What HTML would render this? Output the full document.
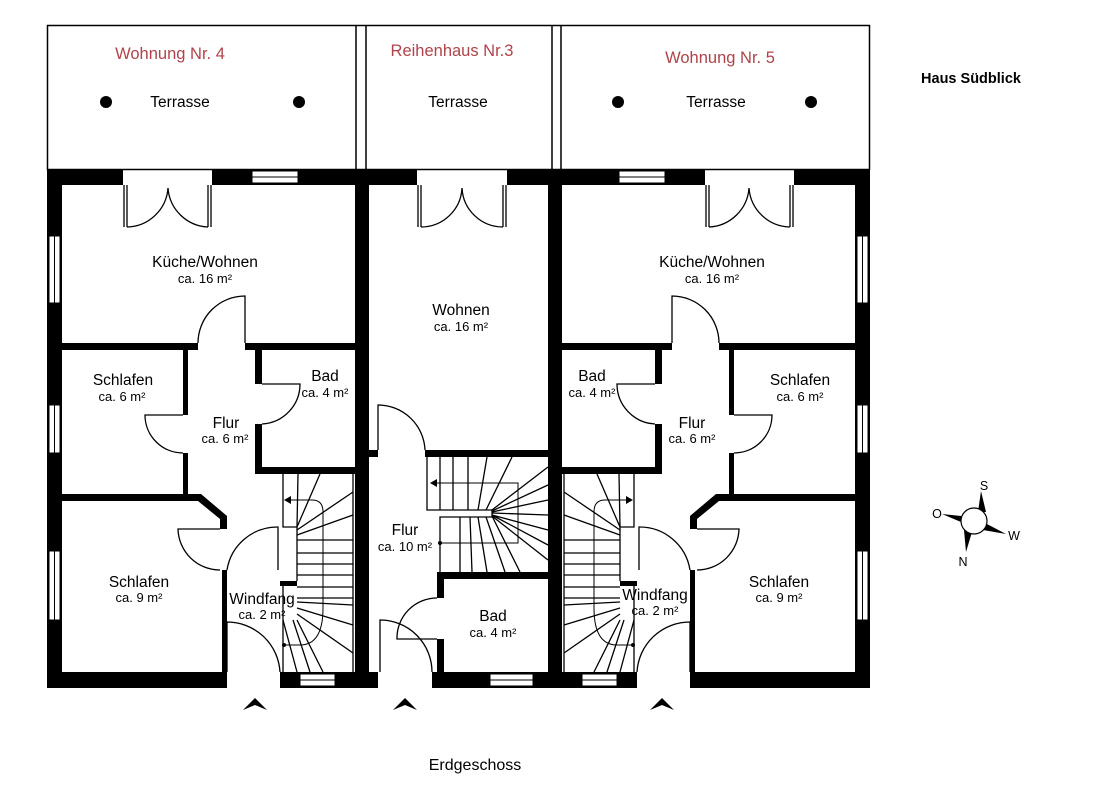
<!DOCTYPE html>
<html><head><meta charset="utf-8"><style>
html,body{margin:0;padding:0;background:#fff;width:1120px;height:792px;overflow:hidden}
svg{display:block}
text{font-family:"Liberation Sans",sans-serif;fill:#000}
.l{font-size:15.5px}.a{font-size:13px}
.r{font-size:16.5px;fill:#b0434a}
</style></head><body>
<svg width="1120" height="792" viewBox="0 0 1120 792" xmlns="http://www.w3.org/2000/svg">
<defs>
<g id="unit">
 <g fill="#000">
  <rect x="47" y="169" width="76" height="16"/>
  <rect x="212" y="169" width="157" height="16"/>
  <rect x="47" y="169" width="15" height="519"/>
  <rect x="355" y="169" width="14" height="519"/>
  <rect x="47" y="672" width="180" height="16"/>
  <rect x="280" y="672" width="75" height="16"/>
  <rect x="62" y="343" width="136" height="7"/>
  <rect x="245" y="343" width="110" height="7"/>
  <rect x="183" y="343" width="5" height="72"/>
  <rect x="183" y="453" width="5" height="44"/>
  <polygon points="62,494 201,494 227,516 227,529 220,529 220,519 198,501 62,501"/>
  <rect x="222" y="570" width="5" height="104"/>
  <rect x="255" y="343" width="7" height="41"/>
  <rect x="255" y="424" width="7" height="50"/>
  <rect x="255" y="467" width="100" height="7"/>
  <rect x="280" y="581" width="17" height="5"/>
 </g>
 <g fill="#fff" stroke="#000" stroke-width="1">
  <rect x="252" y="171" width="46" height="12"/>
  <rect x="49" y="236" width="11" height="67"/>
  <rect x="49" y="405" width="11" height="48"/>
  <rect x="49" y="551" width="11" height="69"/>
  <rect x="300" y="674" width="35" height="12"/>
 </g>
 <g stroke="#000" stroke-width="1">
  <line x1="252" y1="177" x2="298" y2="177"/>
  <line x1="54.5" y1="236" x2="54.5" y2="303"/>
  <line x1="54.5" y1="405" x2="54.5" y2="453"/>
  <line x1="54.5" y1="551" x2="54.5" y2="620"/>
  <line x1="300" y1="680" x2="335" y2="680"/>
 </g>
 <g fill="none" stroke="#000" stroke-width="1.3">
  <path d="M124 185V227M127 185V227M208 185V227M211 185V227"/>
  <path d="M127 227A42 42 0 0 0 168 188M208 227A42 42 0 0 1 168 188"/>
  <path d="M245 343V296A47 47 0 0 0 198 343"/>
  <path d="M183 415H145A38 38 0 0 0 183 453"/>
  <path d="M262 384H300A40 40 0 0 1 262 424"/>
  <path d="M220 529H178A42 42 0 0 0 220 570"/>
  <path d="M278 570V527A51 51 0 0 0 227 570"/>
  <path d="M227 672V622A53 53 0 0 1 280 672"/>
  <path d="M283 474V527H297V581M283 586V672M353 474V672"/>
  <path d="M297 527L298 474M297 527L320 474M297 530L353 492M297 535L353 515M297 540L353 540M297 553H353M297 564H353M297 575H353M297 587H353M297 598H353M297 602L353 605M297 608L353 625M297 614L353 653M297 620L323 672M293 620L310 672M283 620L297 672"/>
  <path d="M290 500H312Q323 500 323 512V608Q323 645 300 645H285" stroke-width="1"/>
 </g>
 <polygon points="284,500 291,496 291,504" fill="#000"/>
 <circle cx="284" cy="645" r="2" fill="#000"/>
</g>
</defs>

<g fill="none" stroke="#000" stroke-width="1.5">
 <rect x="47.5" y="25.5" width="822" height="144"/>
 <line x1="356" y1="25" x2="356" y2="169"/>
 <line x1="366" y1="25" x2="366" y2="169"/>
 <line x1="552" y1="25" x2="552" y2="169"/>
 <line x1="561" y1="25" x2="561" y2="169"/>
</g>
<g fill="#000">
 <circle cx="106" cy="102" r="6"/><circle cx="299" cy="102" r="6"/>
 <circle cx="618" cy="102" r="6"/><circle cx="811" cy="102" r="6"/>
</g>

<use href="#unit"/>
<use href="#unit" transform="matrix(-1,0,0,1,917,0)"/>

<g fill="#000">
 <rect x="355" y="169" width="62" height="16"/>
 <rect x="507" y="169" width="56" height="16"/>
 <rect x="355" y="672" width="23" height="16"/>
 <rect x="432" y="672" width="131" height="16"/>
 <rect x="369" y="450" width="9" height="7"/>
 <rect x="425" y="450" width="123" height="7"/>
 <rect x="437" y="572" width="111" height="7"/>
 <rect x="437" y="572" width="7" height="26"/>
 <rect x="437" y="639" width="7" height="35"/>
</g>
<rect x="490" y="674" width="43" height="12" fill="#fff" stroke="#000"/>
<line x1="490" y1="680" x2="533" y2="680" stroke="#000"/>
<g fill="none" stroke="#000" stroke-width="1.3">
 <path d="M418 185V227M421 185V227M503 185V227M506 185V227"/>
 <path d="M421 227A41 41 0 0 0 462 188M503 227A41 41 0 0 1 462 188"/>
 <path d="M378 450V405A47 47 0 0 1 425 450"/>
 <path d="M437 639H397A40 40 0 0 1 437 598"/>
 <path d="M380 672V620A52 52 0 0 1 432 672"/>
 <path d="M427 457V510H492V517H440V572"/>
 <path d="M440 457V510M453 457V510M468 457V510M487 457L478 510M512 457L486 510M548 467L492 510M548 485L492 511M548 500L492 512M548 515L492 513"/>
 <path d="M460 517V572M472 572L470 517M487 572L478 517M505 572L486 517M520 572L492 516M548 560L492 516M548 545L492 515M548 530L492 515"/>
 <path d="M432 483H518V543H440" stroke-width="1"/>
</g>
<polygon points="430,483 437,479 437,487" fill="#000"/>
<circle cx="440" cy="543" r="2" fill="#000"/>

<g fill="#000">
 <polygon points="243,710 255,698 267,710 255,705"/>
 <polygon points="393,710 405,698 417,710 405,705"/>
 <polygon points="650,710 662,698 674,710 662,705"/>
</g>

<g text-anchor="middle">
 <text class="r" x="170" y="59">Wohnung Nr. 4</text>
 <text class="r" x="452" y="56">Reihenhaus Nr.3</text>
 <text class="r" x="720" y="63">Wohnung Nr. 5</text>
 <text class="l" x="180" y="107">Terrasse</text>
 <text class="l" x="458" y="107">Terrasse</text>
 <text class="l" x="716" y="107">Terrasse</text>
 <text x="971" y="83" style="font-size:14.5px;font-weight:bold">Haus Südblick</text>

 <text class="l" x="205" y="267">Küche/Wohnen</text><text class="a" x="205" y="283">ca. 16 m²</text>
 <text class="l" x="123" y="385">Schlafen</text><text class="a" x="122" y="401">ca. 6 m²</text>
 <text class="l" x="325" y="381">Bad</text><text class="a" x="325" y="397">ca. 4 m²</text>
 <text class="l" x="226" y="428">Flur</text><text class="a" x="225" y="443">ca. 6 m²</text>
 <text class="l" x="139" y="587">Schlafen</text><text class="a" x="139" y="602">ca. 9 m²</text>
 <text class="l" x="262" y="604">Windfang</text><text class="a" x="262" y="619">ca. 2 m²</text>

 <text class="l" x="461" y="315">Wohnen</text><text class="a" x="461" y="331">ca. 16 m²</text>
 <text class="l" x="405" y="535">Flur</text><text class="a" x="405" y="551">ca. 10 m²</text>
 <text class="l" x="493" y="621">Bad</text><text class="a" x="493" y="637">ca. 4 m²</text>

 <text class="l" x="712" y="267">Küche/Wohnen</text><text class="a" x="712" y="283">ca. 16 m²</text>
 <text class="l" x="592" y="381">Bad</text><text class="a" x="592" y="397">ca. 4 m²</text>
 <text class="l" x="800" y="385">Schlafen</text><text class="a" x="800" y="401">ca. 6 m²</text>
 <text class="l" x="692" y="428">Flur</text><text class="a" x="692" y="443">ca. 6 m²</text>
 <text class="l" x="779" y="587">Schlafen</text><text class="a" x="779" y="602">ca. 9 m²</text>
 <text class="l" x="655" y="600">Windfang</text><text class="a" x="655" y="615">ca. 2 m²</text>

 <text x="475" y="770" style="font-size:16px">Erdgeschoss</text>
</g>

<g>
 <polygon points="981,491 978,512 986,512" fill="#000"/>
 <polygon points="942,514 961,516 961,522" fill="#000"/>
 <polygon points="1006,534 985,523 983,530" fill="#000"/>
 <polygon points="966,552 964,530 972,532" fill="#000"/>
 <circle cx="974" cy="521" r="13" fill="#fff" stroke="#000" stroke-width="1.2"/>
 <text x="984" y="490" text-anchor="middle" style="font-size:12.5px">S</text>
 <text x="937" y="518" text-anchor="middle" style="font-size:12.5px">O</text>
 <text x="1014" y="540" text-anchor="middle" style="font-size:12.5px">W</text>
 <text x="963" y="566" text-anchor="middle" style="font-size:12.5px">N</text>
</g>
</svg>
</body></html>
